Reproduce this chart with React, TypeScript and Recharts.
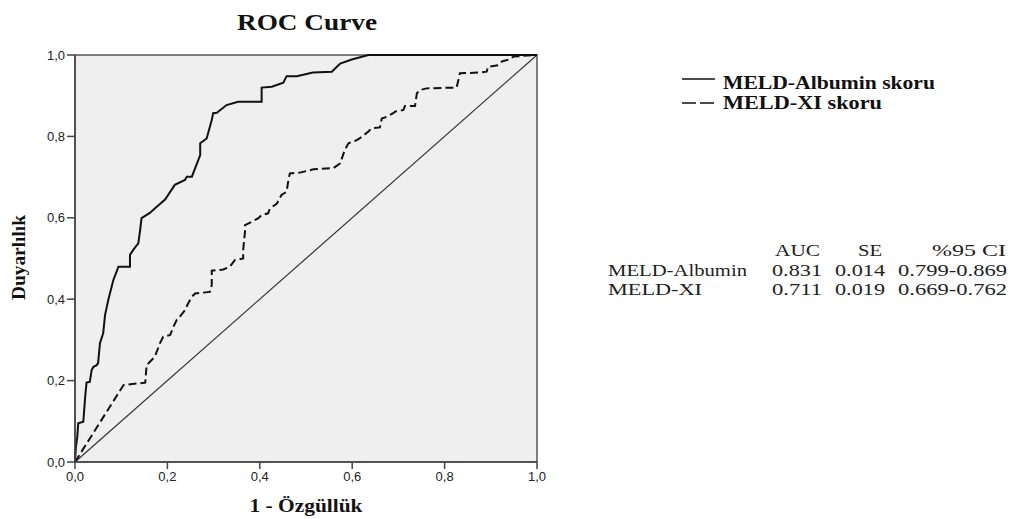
import React from "react";
import { LineChart, Line, XAxis, YAxis, ReferenceArea } from "recharts";

// ROC points (1 - Özgüllük, Duyarlılık)
const albuminFpr = [0, 0.002, 0.005, 0.007, 0.018, 0.022, 0.025, 0.032, 0.036, 0.04, 0.047, 0.05, 0.054, 0.061, 0.065, 0.072, 0.083, 0.094, 0.119, 0.119, 0.126, 0.137, 0.141, 0.144, 0.162, 0.177, 0.195, 0.216, 0.238, 0.242, 0.253, 0.271, 0.271, 0.285, 0.296, 0.299, 0.307, 0.328, 0.353, 0.404, 0.404, 0.426, 0.451, 0.458, 0.48, 0.515, 0.556, 0.563, 0.574, 0.599, 0.635, 1];
const albuminTpr = [0, 0.038, 0.062, 0.095, 0.099, 0.16, 0.195, 0.197, 0.226, 0.234, 0.238, 0.243, 0.292, 0.316, 0.361, 0.398, 0.447, 0.48, 0.48, 0.509, 0.521, 0.537, 0.57, 0.599, 0.612, 0.627, 0.645, 0.681, 0.693, 0.701, 0.701, 0.754, 0.783, 0.795, 0.84, 0.857, 0.858, 0.877, 0.885, 0.885, 0.92, 0.922, 0.932, 0.948, 0.948, 0.957, 0.959, 0.967, 0.979, 0.989, 1, 1];

const xiFpr = [0, 0.105, 0.152, 0.155, 0.173, 0.184, 0.191, 0.206, 0.213, 0.22, 0.227, 0.238, 0.245, 0.253, 0.26, 0.292, 0.296, 0.296, 0.321, 0.335, 0.346, 0.364, 0.364, 0.368, 0.368, 0.382, 0.397, 0.404, 0.418, 0.422, 0.437, 0.447, 0.458, 0.462, 0.465, 0.487, 0.516, 0.559, 0.574, 0.584, 0.592, 0.61, 0.621, 0.635, 0.642, 0.66, 0.664, 0.674, 0.689, 0.693, 0.711, 0.714, 0.736, 0.74, 0.747, 0.761, 0.826, 0.83, 0.833, 0.877, 0.891, 0.894, 0.916, 0.924, 0.942, 0.949, 0.992, 1];
const xiTpr = [0, 0.189, 0.195, 0.238, 0.259, 0.292, 0.308, 0.312, 0.332, 0.349, 0.357, 0.373, 0.39, 0.406, 0.414, 0.418, 0.435, 0.47, 0.473, 0.48, 0.496, 0.5, 0.521, 0.566, 0.582, 0.59, 0.599, 0.607, 0.611, 0.623, 0.635, 0.656, 0.664, 0.693, 0.709, 0.711, 0.719, 0.722, 0.734, 0.767, 0.783, 0.791, 0.799, 0.812, 0.82, 0.822, 0.844, 0.848, 0.857, 0.861, 0.865, 0.875, 0.875, 0.906, 0.914, 0.918, 0.92, 0.939, 0.955, 0.957, 0.959, 0.971, 0.975, 0.984, 0.99, 0.996, 1, 1];

const refFpr = [0, 1];
const refTpr = [0, 1];

const ticks = [0, 0.2, 0.4, 0.6, 0.8, 1];
const seriesNames = ["MELD-Albumin skoru", "MELD-XI skoru"];

const tableHeader = ["AUC", "SE", "%95 CI"];
const tableRows = ["MELD-Albumin", "MELD-XI"];
const aucValues = ["0.831", "0.711"];
const seValues = ["0.014", "0.019"];
const ciValues = ["0.799-0.869", "0.669-0.762"];

const zip = (xs: number[], ys: number[]) => xs.map((x, i) => ({ fpr: x, tpr: ys[i] }));

const albuminData = zip(albuminFpr, albuminTpr);
const xiData = zip(xiFpr, xiTpr);
const refData = zip(refFpr, refTpr);

const fmt = (v: number) => v.toFixed(1).replace(".", ",");

const serif = "'Liberation Serif', 'Times New Roman', serif";
const tickStyle = { fontFamily: "'Liberation Sans', Arial, sans-serif", fontSize: 13, fill: "#222" };

export default function App() {
  return (
    <div style={{ position: "absolute", left: 0, top: 0, width: 1010, height: 519, background: "#fff" }}>
      <LineChart width={1010} height={519} margin={{ top: 55, right: 473, bottom: 27, left: 0 }}>
        <ReferenceArea x1={0} x2={1} y1={0} y2={1} fill="#efefef" fillOpacity={1} stroke="#555" strokeWidth={1.5} />
        <XAxis
          dataKey="fpr"
          type="number"
          domain={[0, 1]}
          ticks={ticks}
          tickFormatter={fmt}
          allowDuplicatedCategory={false}
          height={30}
          tickSize={7}
          tickMargin={3}
          stroke="#444"
          strokeWidth={1.5}
          tick={tickStyle}
        />
        <YAxis
          type="number"
          domain={[0, 1]}
          ticks={ticks}
          tickFormatter={fmt}
          width={75}
          tickSize={8}
          tickMargin={2}
          stroke="#444"
          strokeWidth={1.5}
          tick={tickStyle}
        />
        <Line data={refData} dataKey="tpr" type="linear" stroke="#333" strokeWidth={1.2} dot={false} isAnimationActive={false} legendType="none" />
        <Line data={xiData} dataKey="tpr" name={seriesNames[1]} type="linear" stroke="#111" strokeWidth={2} strokeDasharray="8 4" dot={false} isAnimationActive={false} />
        <Line data={albuminData} dataKey="tpr" name={seriesNames[0]} type="linear" stroke="#111" strokeWidth={2} dot={false} isAnimationActive={false} />
      </LineChart>

      <svg width={1010} height={519} style={{ position: "absolute", left: 0, top: 0, pointerEvents: "none" }}>
        <g fill="#111" fontFamily={serif}>
          <text x={307} y={30} textAnchor="middle" fontSize={24} fontWeight="bold" textLength={140} lengthAdjust="spacingAndGlyphs">ROC Curve</text>
          <text x={306} y={512} textAnchor="middle" fontSize={18} fontWeight="bold" textLength={113} lengthAdjust="spacingAndGlyphs">1 - Özgüllük</text>
          <text transform="translate(25,257.5) rotate(-90)" textAnchor="middle" fontSize={18} fontWeight="bold" textLength={85} lengthAdjust="spacingAndGlyphs">Duyarlılık</text>

          {/* legend */}
          <line x1={682} x2={715} y1={79} y2={79} stroke="#111" strokeWidth={1.5} />
          <line x1={682} x2={715} y1={103} y2={103} stroke="#111" strokeWidth={1.5} strokeDasharray="14 4" />
          <text x={723} y={89} fontSize={18} fontWeight="bold" textLength={212} lengthAdjust="spacingAndGlyphs">{seriesNames[0]}</text>
          <text x={723} y={109} fontSize={18} fontWeight="bold" textLength={159} lengthAdjust="spacingAndGlyphs">{seriesNames[1]}</text>
        </g>

        {/* AUC table */}
        <g fill="#222" fontFamily={serif} fontSize={16.5}>
          <text x={775} y={255.5} textLength={45} lengthAdjust="spacingAndGlyphs">{tableHeader[0]}</text>
          <text x={858} y={255.5} textLength={24} lengthAdjust="spacingAndGlyphs">{tableHeader[1]}</text>
          <text x={932} y={255.5} textLength={74} lengthAdjust="spacingAndGlyphs">{tableHeader[2]}</text>
          {tableRows.map((r, i) => (
            <g key={r}>
              <text x={608} y={275.5 + i * 19} textLength={i === 0 ? 139 : 94} lengthAdjust="spacingAndGlyphs">{r}</text>
              <text x={772} y={275.5 + i * 19} textLength={50} lengthAdjust="spacingAndGlyphs">{aucValues[i]}</text>
              <text x={835} y={275.5 + i * 19} textLength={50} lengthAdjust="spacingAndGlyphs">{seValues[i]}</text>
              <text x={898} y={275.5 + i * 19} textLength={109} lengthAdjust="spacingAndGlyphs">{ciValues[i]}</text>
            </g>
          ))}
        </g>
      </svg>
    </div>
  );
}
